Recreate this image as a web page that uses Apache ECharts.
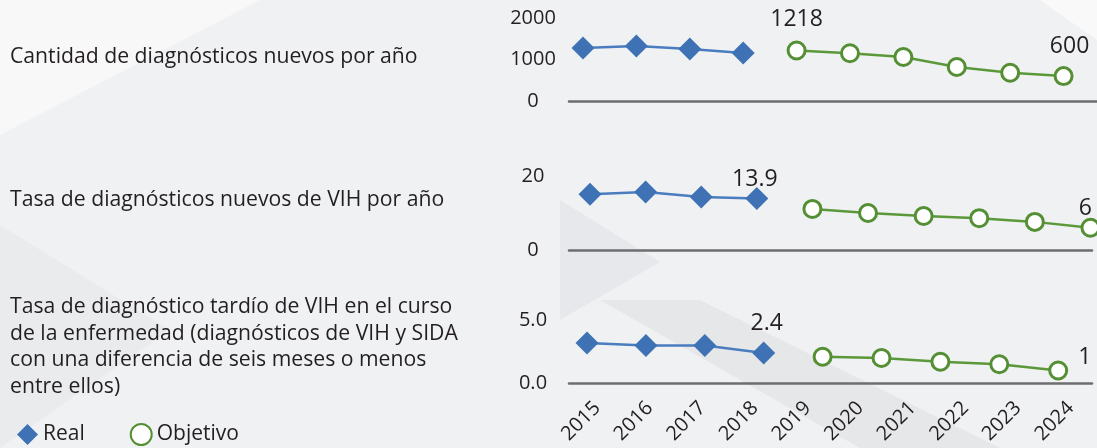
<!DOCTYPE html>
<html>
<head>
<meta charset="utf-8">
<script src="https://cdn.jsdelivr.net/npm/echarts@6/dist/echarts.min.js"></script>
<style>
  html, body { margin: 0; padding: 0; background: #f0f1f3; }
  #main { width: 1097px; height: 448px; }
</style>
</head>
<body>
<div id="main"></div>
<script>
var myChart = echarts.init(document.getElementById('main'));

var years = [2015, 2016, 2017, 2018, 2019, 2020, 2021, 2022, 2023, 2024];
var realYears = [2015, 2016, 2017, 2018];
var objYears = [2019, 2020, 2021, 2022, 2023, 2024];
var objYearsLate = [2019, 2020, 2021, 2022, 2023];

var titles = [
    'Cantidad de diagnósticos nuevos por año',
    'Tasa de diagnósticos nuevos de VIH por año',
    'Tasa de diagnóstico tardío de VIH en el curso\nde la enfermedad (diagnósticos de VIH y SIDA\ncon una diferencia de seis meses o menos\nentre ellos)'
];

// panel 1: cantidad
var cantReal = [1277, 1325, 1253, 1157];
var cantObj = [1218, 1150, 1060, 820, 680, 600];
var cantTicks = [0, 1000, 2000];

// panel 2: tasa
var tasaReal = [15.1, 15.7, 14.3, 13.9];
var tasaObj = [11.1, 10.0, 9.2, 8.6, 7.6, 6];
var tasaTicks = [0, 20];

// panel 3: tardío
var tardReal = [3.2, 3.0, 3.0, 2.4];
var tardObj = [2.1, 2.0, 1.7, 1.5, 1.0];
var tardTicks = [0, 5];

var BLUE = '#3f72b5';
var GREEN = '#548f34';
var TXT = '#231f20';
var FONT = 'Open Sans';

var labelStyle = { color: TXT, fontSize: 23, fontFamily: FONT };

// build [year, value] points, one of them carries a value label
function pairs(xs, vs, labelIdx, labelCfg) {
    return vs.map(function (v, i) {
        var d = { value: [xs[i], v] };
        if (i === labelIdx) d.label = Object.assign({ show: true }, labelStyle, labelCfg);
        return d;
    });
}

function realSeries(idx, xs, vs, labelIdx, labelCfg) {
    return {
        name: 'Real', type: 'line', xAxisIndex: idx, yAxisIndex: idx,
        data: pairs(xs, vs, labelIdx, labelCfg),
        symbol: 'diamond', symbolSize: 23,
        itemStyle: { color: BLUE },
        lineStyle: { color: '#4a7cc0', width: 2.5 },
        label: { show: false },
        z: 3
    };
}

function objSeries(idx, xs, vs, labelIdx, labelCfg) {
    return {
        name: 'Objetivo', type: 'line', xAxisIndex: idx, yAxisIndex: idx,
        data: pairs(xs, vs, labelIdx, labelCfg),
        symbol: 'circle', symbolSize: 17, showAllSymbol: true,
        itemStyle: { color: '#ffffff', borderColor: GREEN, borderWidth: 3 },
        lineStyle: { color: '#5b983a', width: 2.5 },
        label: { show: false },
        z: 3
    };
}

function yAx(idx, ticks, fmt) {
    return {
        gridIndex: idx, type: 'value',
        min: ticks[0], max: ticks[ticks.length - 1], interval: ticks[1] - ticks[0],
        axisLine: { show: false }, axisTick: { show: false }, splitLine: { show: false },
        axisLabel: {
            color: TXT, fontSize: 20, fontFamily: FONT, align: 'center', margin: 36,
            formatter: fmt || function (v) { return String(v); }
        }
    };
}

function xAx(idx, min, max) {
    return {
        gridIndex: idx, type: 'value', min: min, max: max,
        axisLine: { show: true, onZero: false, lineStyle: { color: '#6d6e71', width: 2.5 } },
        axisTick: { show: false }, axisLabel: { show: false }, splitLine: { show: false }
    };
}

option = {
    backgroundColor: '#f0f1f3',
    graphic: [
        { type: 'polygon', silent: true, z: -10,
          shape: { points: [[0, 0], [260, 0], [0, 135]] },
          style: { fill: 'rgba(255,255,255,0.5)' } },
        { type: 'polygon', silent: true, z: -10,
          shape: { points: [[0, 225], [170, 330], [0, 448]] },
          style: { fill: 'rgba(205,208,213,0.18)' } },
        { type: 'polygon', silent: true, z: -10,
          shape: { points: [[560, 200], [660, 262], [560, 320]] },
          style: { fill: 'rgba(205,208,213,0.25)' } },
        { type: 'polygon', silent: true, z: -10,
          shape: { points: [[600, 300], [700, 300], [1000, 448], [860, 448]] },
          style: { fill: 'rgba(200,204,210,0.28)' } },
        { type: 'polygon', silent: true, z: -10,
          shape: { points: [[1040, 0], [1097, 0], [1097, 40]] },
          style: { fill: 'rgba(255,255,255,0.6)' } }
    ],
    title: [
        { text: titles[0], left: 10, top: 44 },
        { text: titles[1], left: 10, top: 187 },
        { text: titles[2], left: 10, top: 294 }
    ].map(function (t) {
        t.textStyle = { color: TXT, fontSize: 21.2, fontWeight: 'normal', fontFamily: FONT, lineHeight: 26.5 };
        t.padding = 0;
        return t;
    }),
    legend: {
        left: 12, top: 418,
        itemWidth: 21, itemHeight: 21, itemGap: 45, itemTextGap: 6,
        textStyle: { color: TXT, fontSize: 21, fontFamily: FONT },
        data: [
            { name: 'Real', icon: 'diamond' },
            { name: 'Objetivo', icon: 'circle' }
        ]
    },
    grid: [
        { left: 569, right: 0, top: 18, bottom: 347 },
        { left: 569, right: 5, top: 176, bottom: 198 },
        { left: 569, right: 5, top: 320.5, bottom: 65 },
        { left: 571, right: -26, top: 330, bottom: 65 }
    ],
    xAxis: [
        xAx(0, 2014.738, 2024.626),
        xAx(1, 2014.622, 2024.028),
        xAx(2, 2014.694, 2023.574),
        {
            gridIndex: 3, type: 'category', data: years,
            axisLine: { show: false }, axisTick: { show: false },
            axisLabel: { color: TXT, fontSize: 20, fontFamily: FONT, rotate: 45, margin: 22, interval: 0 }
        }
    ],
    yAxis: [
        yAx(0, cantTicks),
        yAx(1, tasaTicks),
        yAx(2, tardTicks, function (v) { return v.toFixed(1); }),
        { gridIndex: 3, type: 'value', show: false }
    ],
    series: [
        realSeries(0, realYears, cantReal, -1),
        objSeries(0, objYears, cantObj, 0, { position: 'top', distance: 9 }),
        realSeries(1, realYears, tasaReal, 3, { position: 'top', distance: 0, offset: [-2, 4] }),
        objSeries(1, objYears, tasaObj, 5, { position: 'top', distance: 1, offset: [-5, 3] }),
        realSeries(2, realYears, tardReal, 3, { position: 'top', distance: 7, offset: [3, 0] }),
        objSeries(2, objYearsLate, tardObj, 4, { position: 'right', distance: 10, offset: [0, -13] })
    ]
};
// second label in the first panel: the 600 target
option.series[1].data[5].label = Object.assign({ show: true, position: 'top', distance: 8, offset: [6, 0] }, labelStyle);
myChart.setOption(option);
</script>
</body>
</html>
